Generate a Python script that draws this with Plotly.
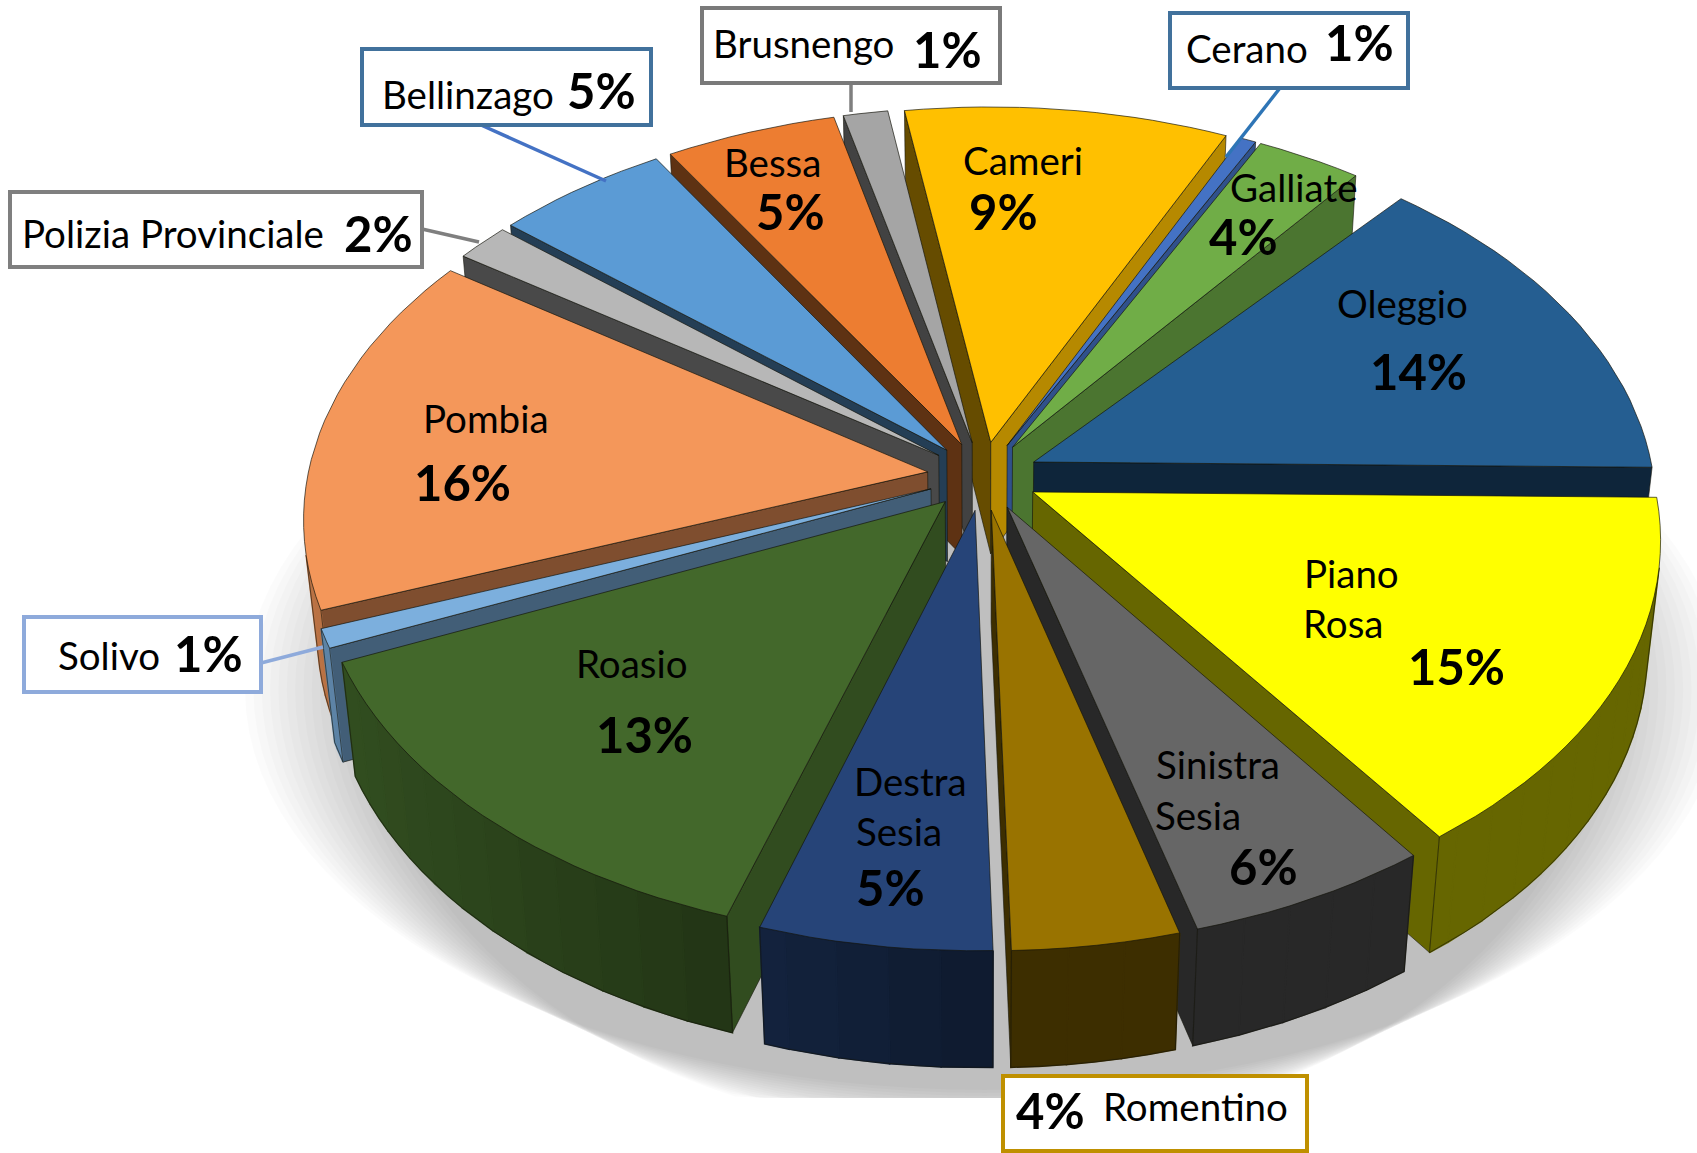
import math
import plotly.graph_objects as go

# ---- data (clockwise from the right-hand side of the pie) ----
categories = ["Piano Rosa", "Sinistra Sesia", "Romentino", "Destra Sesia", "Roasio", "Solivo",
              "Pombia", "Polizia Provinciale", "Bellinzago", "Bessa", "Brusnengo", "Cameri",
              "Cerano", "Galliate", "Oleggio"]
# share of the circle
values = [14.85, 5.65, 3.85, 5.35, 13.6, 0.8, 15.2, 1.6, 5.1, 5.0, 1.3, 9.45, 0.45, 3.5, 14.3]
# percentages printed on the chart
percents = [15, 6, 4, 5, 13, 1, 16, 2, 5, 5, 1, 9, 1, 4, 14]
colors = ["#FFFF00", "#666666", "#997300", "#264478", "#43682B", "#7CAFDD", "#F4975A", "#B7B7B7",
          "#5B9BD5", "#ED7D31", "#A5A5A5", "#FFC000", "#4472C4", "#70AD47", "#255E91"]

# inside labels: name -> (text lines with centres, percent centre)
inside_labels = {
    "Cameri": ([("Cameri", 1023, 160)], (1003, 211)),
    "Galliate": ([("Galliate", 1293, 187)], (1243, 236)),
    "Oleggio": ([("Oleggio", 1402, 303)], (1418, 371)),
    "Piano Rosa": ([("Piano", 1351, 573), ("Rosa", 1343, 623)], (1456, 666)),
    "Sinistra Sesia": ([("Sinistra", 1218, 764), ("Sesia", 1198, 815)], (1263, 866)),
    "Destra Sesia": ([("Destra", 910, 781), ("Sesia", 899, 831)], (890, 887)),
    "Roasio": ([("Roasio", 632, 663)], (644, 734)),
    "Pombia": ([("Pombia", 486, 418)], (462, 482)),
    "Bessa": ([("Bessa", 772, 162)], (790, 211)),
}
# boxed labels: name -> box, name centre, percent centre, border colour, leader line, leader colour
boxed_labels = {
    "Polizia Provinciale": ((10, 192, 422, 267), (173, 233), (378, 233), "#7F7F7F",
                            [(422, 229), (479, 242)], "#7F7F7F"),
    "Bellinzago": ((362, 49, 651, 125), (468, 94), (601, 90), "#41719C",
                   [(481, 125), (606, 181)], "#4472C4"),
    "Brusnengo": ((702, 8, 1000, 83), (803, 43), (947, 49), "#7A7A7A",
                  [(851, 83), (851, 112)], "#7F7F7F"),
    "Cerano": ((1170, 13, 1408, 88), (1247, 48), (1359, 42), "#41719C",
               [(1280, 88), (1226, 157)], "#2E75B6"),
    "Solivo": ((24, 617, 261, 692), (109, 655), (208, 653), "#8EAADB",
               [(261, 663), (323, 647)], "#8EAADB"),
    "Romentino": ((1003, 1076, 1307, 1151), (1195, 1106), (1050, 1110), "#BF9000", None, None),
}
percent_labels = {n: f"{p}%" for n, p in zip(categories, percents)}

# ---- projection of the tilted pie ----
CX, CY, R = 983.0, 476.0, 620.0
K, TILT, HEIGHT, SINK, PULL = 0.115, 0.615, 114.0, 0.02, 0.09
START_DEG = 0.8
NAME_SIZE, PCT_SIZE = 38.5, 49
# the reference leaves a wider opening between these two slices
TRIM_END_DEG = {"Galliate": 1.5}
TRIM_START_DEG = {"Oleggio": 1.5}


def proj(X, Y, z):
    w = 1 - K * Y + SINK * z
    return CX + R * X / w, CY + (TILT * R * Y + HEIGHT * z) / w


def scale(hex_color, f):
    r, g, b = (int(hex_color[i:i + 2], 16) for i in (1, 3, 5))
    return f"rgb({int(r * f)},{int(g * f)},{int(b * f)})"


def shade(nx):
    return 0.4 + 0.35 * max(0.0, nx)


def wall_shade(nx):
    return 0.4 + 0.38 * max(0.0, -nx)


def area(p):
    s = 0.0
    for i in range(len(p)):
        x0, y0 = p[i]
        x1, y1 = p[(i + 1) % len(p)]
        s += x0 * y1 - x1 * y0
    return s


fig = go.Figure()


def poly(pts, fill, line=None, width=1.0):
    xs = [p[0] for p in pts] + [pts[0][0]]
    ys = [p[1] for p in pts] + [pts[0][1]]
    fig.add_trace(go.Scatter(x=xs, y=ys, mode="lines", fill="toself", fillcolor=fill,
                             line=dict(color=line or fill, width=width),
                             hoverinfo="skip", showlegend=False))


def stroke(pts, color, width):
    fig.add_trace(go.Scatter(x=[p[0] for p in pts], y=[p[1] for p in pts], mode="lines",
                             line=dict(color=color, width=width), hoverinfo="skip", showlegend=False))


# soft floor shadow
N_SHADOW = 16
for i in range(N_SHADOW):
    f = i / (N_SHADOW - 1)
    rx, ry = 740 - 125 * f, 400 + 45 * f
    pts = []
    for d in range(0, 361, 3):
        a = math.radians(d)
        pts.append((985 + rx * math.cos(a), min(690 + ry * math.sin(a), 1098)))
    fig.add_trace(go.Scatter(x=[p[0] for p in pts], y=[p[1] for p in pts], mode="lines",
                             fill="toself", fillcolor="rgba(0,0,0,0.014)",
                             line=dict(width=0), hoverinfo="skip", showlegend=False))

# slices
total = sum(values)
slices = []
acc = 0.0
for name, v, col in zip(categories, values, colors):
    a0 = START_DEG + acc / total * 360 + TRIM_START_DEG.get(name, 0.0)
    acc += v
    a1 = START_DEG + acc / total * 360 - TRIM_END_DEG.get(name, 0.0)
    slices.append((name, math.radians(a0), math.radians(a1), col))
slices.sort(key=lambda s: math.sin((s[1] + s[2]) / 2))

EDGE = "rgba(20,20,10,0.75)"
for name, a0, a1, col in slices:
    mid = (a0 + a1) / 2
    ax, ay = PULL * math.cos(mid), PULL * math.sin(mid)
    n = max(3, int((a1 - a0) / math.radians(2)))
    angs = [a0 + (a1 - a0) * i / n for i in range(n + 1)]

    def P(a, z):
        return proj(ax + math.cos(a), ay + math.sin(a), z)

    apex_t, apex_b = proj(ax, ay, 0), proj(ax, ay, 1)
    # cut faces
    face0 = [apex_t, P(a0, 0), P(a0, 1), apex_b]
    if area(face0) < 0:
        poly(face0, scale(col, shade(math.sin(a0))), EDGE, 0.8)
    face1 = [P(a1, 0), apex_t, apex_b, P(a1, 1)]
    if area(face1) < 0:
        poly(face1, scale(col, shade(-math.sin(a1))), EDGE, 0.8)
    # outer wall, band by band so the light can change round the rim
    vis = []
    for i in range(n):
        b0, b1 = angs[i], angs[i + 1]
        if area([P(b0, 0), P(b1, 0), P(b1, 1), P(b0, 1)]) < 0:
            vis.extend([b0, b1])
    if vis:
        vis = sorted(set(vis))
        m = len(vis) - 1
        for j in range(0, m, 2):
            seg = vis[j:j + 3]
            c = scale(col, wall_shade(math.cos(sum(seg) / len(seg))))
            poly([P(b, 0) for b in seg] + [P(b, 1) for b in reversed(seg)], c, c, 1.6)
        stroke([P(b, 1) for b in vis], EDGE, 0.8)
        stroke([P(vis[0], 0), P(vis[0], 1)], EDGE, 0.8)
        stroke([P(vis[-1], 0), P(vis[-1], 1)], EDGE, 0.8)
    # top face
    poly([apex_t] + [P(a, 0) for a in angs], col, EDGE, 0.9)

annotations = []
shapes = []


def text(s, x, y, size, bold=False):
    annotations.append(dict(x=x, y=y, xref="x", yref="y", text=f"<b>{s}</b>" if bold else s,
                            showarrow=False, xanchor="center", yanchor="middle",
                            font=dict(family="Lato", size=size, color="#000000")))


for name, (lines, pc) in inside_labels.items():
    for s, x, y in lines:
        text(s, x, y, NAME_SIZE)
    text(percent_labels[name], pc[0], pc[1], PCT_SIZE, True)

for name, (box, nc, pc, bc, leader, lc) in boxed_labels.items():
    if leader:
        stroke(leader, lc, 3.5)
    shapes.append(dict(type="rect", xref="x", yref="y", x0=box[0], y0=box[1], x1=box[2], y1=box[3],
                       fillcolor="#FFFFFF", line=dict(color=bc, width=4), layer="above"))
    text(name, nc[0], nc[1], NAME_SIZE)
    text(percent_labels[name], pc[0], pc[1], PCT_SIZE, True)

fig.update_layout(
    width=1697, height=1153, autosize=False,
    margin=dict(l=0, r=0, t=0, b=0),
    paper_bgcolor="#FFFFFF", plot_bgcolor="#FFFFFF",
    showlegend=False, annotations=annotations, shapes=shapes,
    xaxis=dict(range=[0, 1697], visible=False, fixedrange=True),
    yaxis=dict(range=[1153, 0], visible=False, fixedrange=True),
)
fig.write_html("out.html", config=dict(displayModeBar=False),
               post_script="document.body.style.margin='0';document.body.style.overflow='hidden';")
